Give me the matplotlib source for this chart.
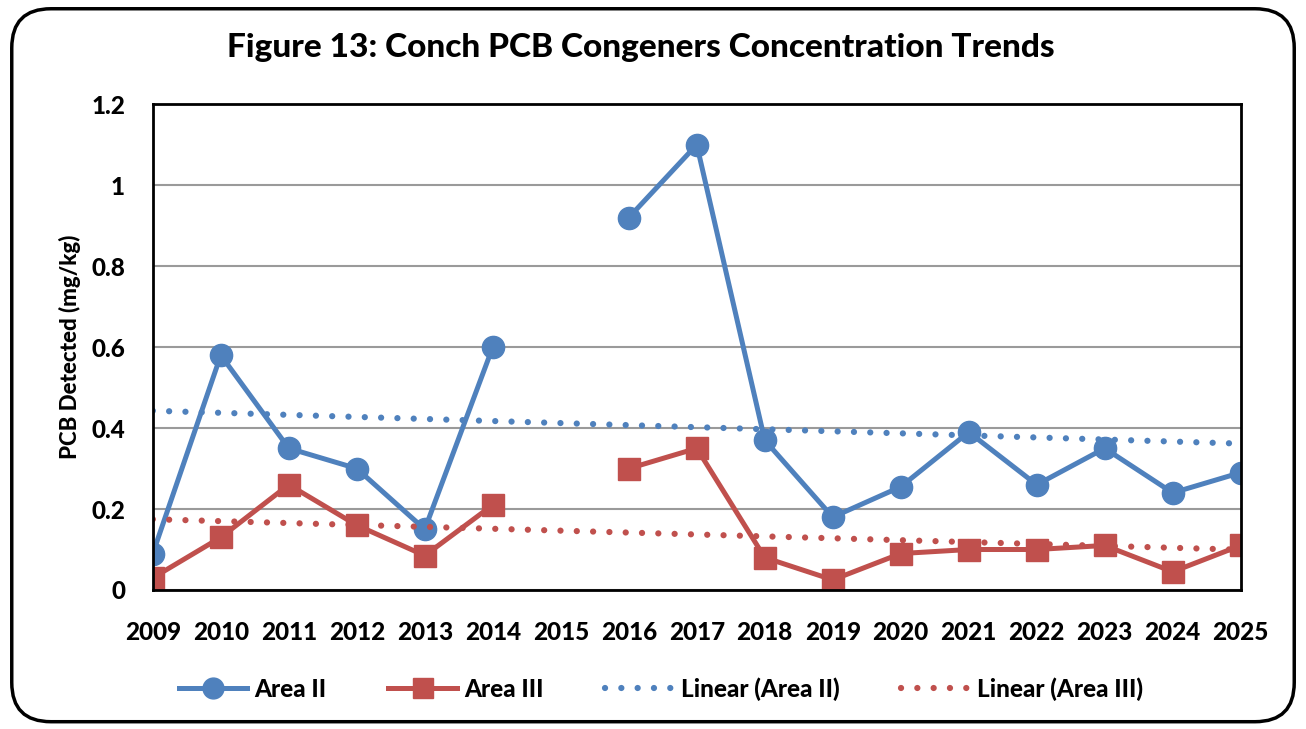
import numpy as np
import matplotlib
matplotlib.use("Agg")
import matplotlib.pyplot as plt
from matplotlib.patches import FancyBboxPatch
from matplotlib.lines import Line2D

years = ["2009", "2010", "2011", "2012", "2013", "2014", "2015", "2016", "2017",
         "2018", "2019", "2020", "2021", "2022", "2023", "2024", "2025"]
area2 = [0.09, 0.58, 0.35, 0.30, 0.15, 0.60, np.nan, 0.92, 1.10,
         0.37, 0.18, 0.255, 0.39, 0.26, 0.35, 0.24, 0.29]
area3 = [0.03, 0.13, 0.26, 0.16, 0.085, 0.21, np.nan, 0.30, 0.35,
         0.08, 0.025, 0.09, 0.10, 0.10, 0.11, 0.045, 0.11]
yticks = [0, 0.2, 0.4, 0.6, 0.8, 1, 1.2]
ytick_labels = ["0", "0.2", "0.4", "0.6", "0.8", "1", "1.2"]

blue = "#4F81BD"
red = "#C0504D"
font = "Lato"
W = 900

fig = plt.figure(figsize=(13.06, 7.29), dpi=100)
ax = fig.add_axes([0.117, 0.1907, 0.833, 0.6663])

x = np.arange(len(years))
a2 = np.array(area2, dtype=float)
a3 = np.array(area3, dtype=float)

def trend(vals):
    m = ~np.isnan(vals)
    p = np.polyfit(x[m] + 1, vals[m], 1)
    return np.polyval(p, x + 1)

dot = (0, (0.01, 2.6))
ax.plot(x, a2, color=blue, lw=3.6, marker="o", ms=16, zorder=3)
ax.plot(x, a3, color=red, lw=3.6, marker="s", ms=15.5, zorder=3)
ax.plot(x, trend(a2), color=blue, lw=4.5, linestyle=dot, dash_capstyle="round", zorder=4)
ax.plot(x, trend(a3), color=red, lw=4.5, linestyle=dot, dash_capstyle="round", zorder=4)

ax.set_xlim(0, len(years) - 1)
ax.set_ylim(0, 1.2)
ax.set_yticks(yticks)
ax.set_yticklabels(ytick_labels)
ax.set_xticks(x)
ax.set_xticklabels(years)
ax.grid(axis="y", color="#9A9A9A", lw=1.5, zorder=0)
ax.tick_params(axis="x", length=0, pad=22)
ax.tick_params(axis="y", length=0, pad=20)
for lab in ax.get_xticklabels() + ax.get_yticklabels():
    lab.set_fontfamily(font)
    lab.set_fontweight(W)
    lab.set_fontsize(17.5)
for s in ax.spines.values():
    s.set_color("black")
    s.set_linewidth(2)
    s.set_zorder(5)
ax.set_ylabel("PCB Detected (mg/kg)", fontsize=16, fontweight=W, family=font)
ax.yaxis.set_label_coords(-0.066, 0.5)

fig.text(0.491, 0.935, "Figure 13: Conch PCB Congeners Concentration Trends", ha="center", va="center",
         fontsize=24, fontweight=W, family=font)

handles = [Line2D([], [], color=blue, lw=3.6, marker="o", ms=15),
           Line2D([], [], color=red, lw=3.6, marker="s", ms=14.5),
           Line2D([], [], color=blue, lw=4.5, linestyle=dot, dash_capstyle="round"),
           Line2D([], [], color=red, lw=4.5, linestyle=dot, dash_capstyle="round")]
leg = fig.legend(handles, ["Area II", "Area III", "Linear (Area II)", "Linear (Area III)"],
                 loc="center", bbox_to_anchor=(0.506, 0.055), ncol=4, frameon=False,
                 prop={"family": font, "weight": W, "size": 17.5},
                 handlelength=2.8, columnspacing=2.55, handletextpad=0.3)

border = FancyBboxPatch((0.009, 0.01), 0.982, 0.978, boxstyle="round,pad=0,rounding_size=0.03",
                        transform=fig.transFigure, fill=False, ec="black", lw=2.5,
                        mutation_aspect=1306 / 729)
fig.patches.append(border)

fig.savefig("out.png", dpi=100)
